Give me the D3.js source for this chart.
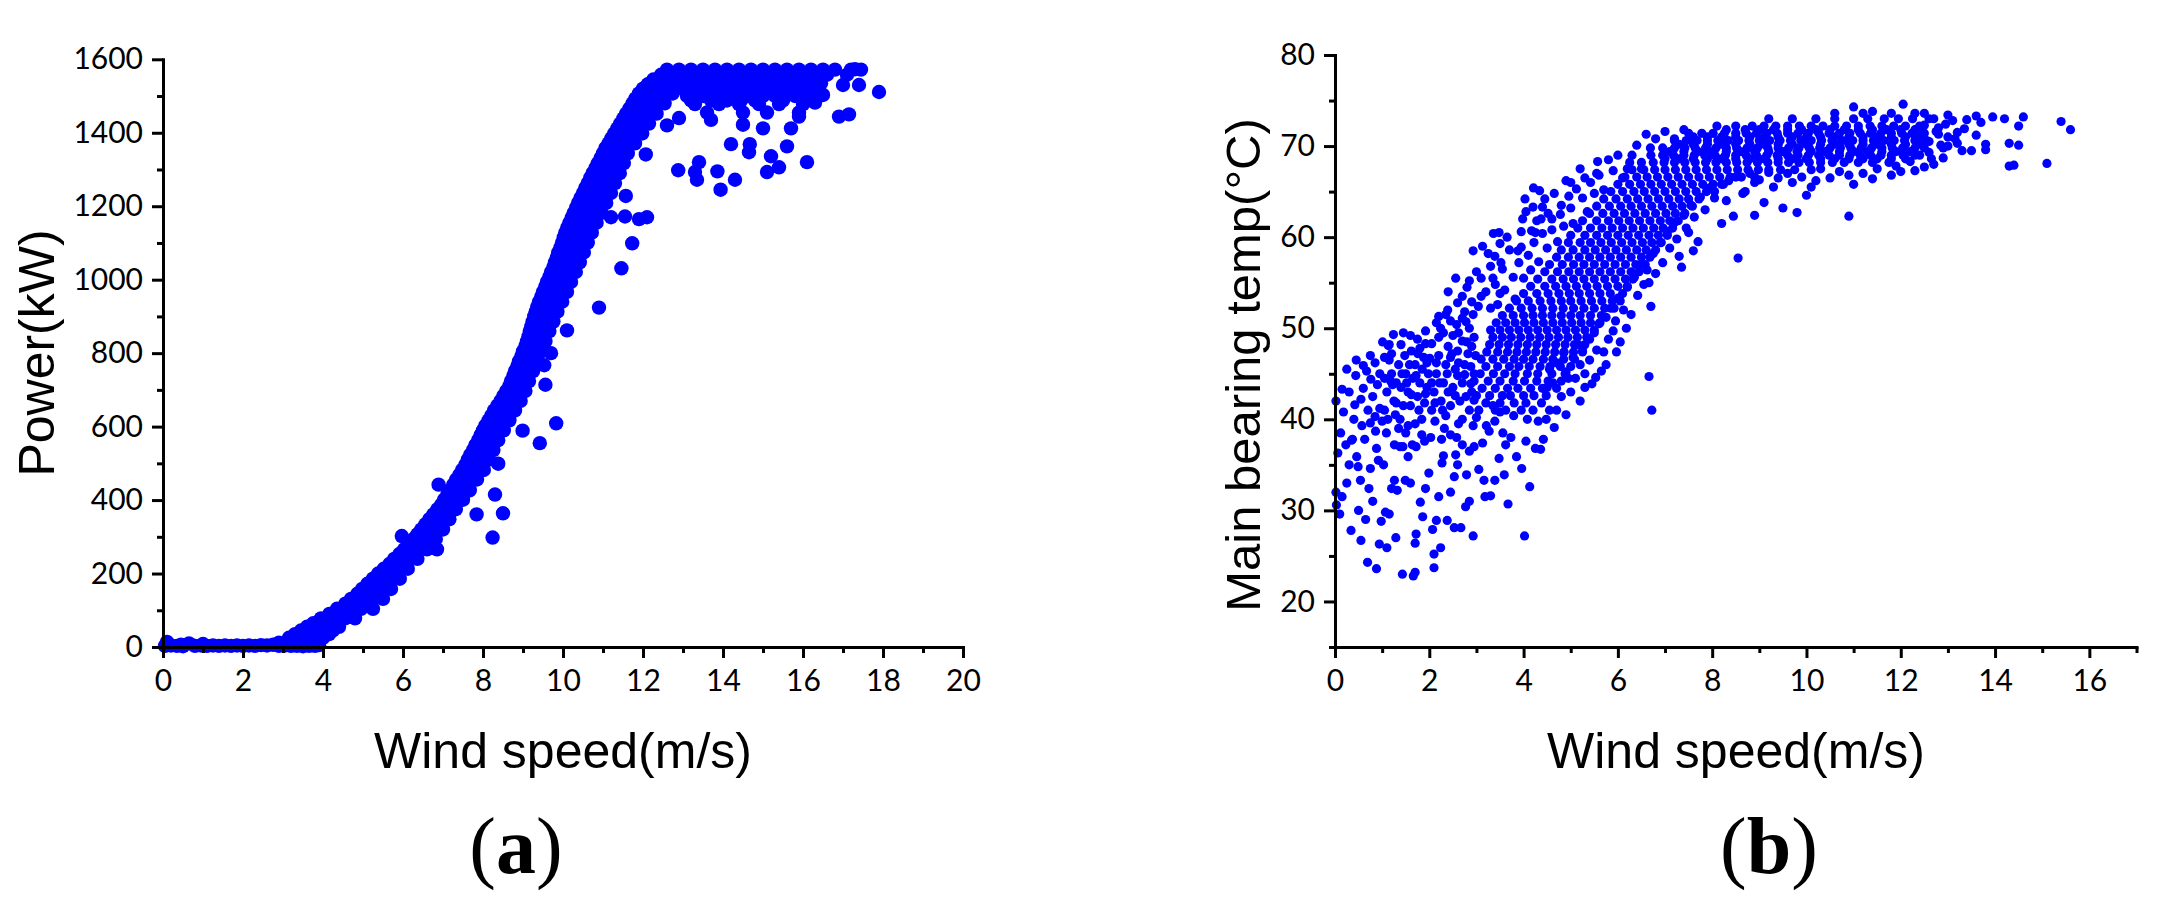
<!DOCTYPE html>
<html><head><meta charset="utf-8">
<script src="https://cdn.jsdelivr.net/npm/d3@7"></script>
<style>html,body{margin:0;padding:0;background:#fff;} svg{display:block}</style>
</head><body>
<svg id="chart" width="2167" height="897"></svg>
<script>
// ---------- Panel (a): Wind speed vs Power ----------
const xTicksA = [0,2,4,6,8,10,12,14,16,18,20];
const xMinorA = [1,3,5,7,9,11,13,15,17,19];
const yTicksA = [0,200,400,600,800,1000,1200,1400,1600];
const yMinorA = [100,300,500,700,900,1100,1300,1500];

// near-zero strip (wind, power)
const stripA = [[0.05,3],[0.1,14],[0.2,4],[0.35,3],[0.45,6],[0.5,2],[0.65,10],[0.8,3],[0.95,4],[1.0,8],[1.1,3],[1.25,4],[1.4,3],[1.55,4],[1.7,3],[1.85,4],[2.0,3],[2.15,4],[2.3,3],[2.45,5],[2.6,4],[2.75,6],[2.9,3],[3.05,4],[3.2,3],[3.35,3],[3.5,2],[3.65,3],[3.8,3],[3.9,5]];

// main power-curve band: power levels and the wind speeds observed at each
const bandPowerA = [25,45,65,90,118,145,172,200,226,253,280,307,334,361,388,415,442,469,496,523,550,577,603,630,657,684,711,738,765,792,819,846,873,900,927,954,981,1008,1034,1061,1088,1115,1142,1169,1196,1223,1250,1277,1304,1331,1358,1385,1412,1439,1466,1493,1520,1545];
const bandWindA = [
[3.15,3.45,3.75,4.0],[3.45,3.75,4.05,4.25],[3.76,4.05,4.34],[4.16,4.45,4.74],[4.56,4.87,5.19],
[4.86,5.13,5.39],[5.11,5.35,5.59],[5.38,5.62,5.82],[5.66,5.85,6.04],[5.91,6.1,6.29],
[6.16,6.35,6.54],[6.36,6.55,6.74],[6.56,6.75,6.94],[6.76,6.95,7.09],[6.96,7.1,7.24],
[7.11,7.26,7.42],[7.26,7.42,7.59],[7.41,7.58,7.76],[7.56,7.75,7.94],[7.68,7.87,8.06],
[7.81,8.0,8.19],[7.94,8.13,8.32],[8.06,8.25,8.44],[8.21,8.4,8.59],[8.36,8.55,8.72],
[8.51,8.7,8.86],[8.66,8.83,8.99],[8.76,8.93,9.09],[8.86,9.03,9.19],[8.96,9.13,9.29],
[9.06,9.23,9.39],[9.14,9.32,9.49],[9.21,9.4,9.59],[9.28,9.48,9.69],[9.36,9.57,9.79],
[9.46,9.67,9.9],[9.56,9.78,10.01],[9.66,9.88,10.12],[9.76,9.98,10.24],[9.85,10.08,10.34],
[9.94,10.17,10.44],[10.02,10.26,10.54],[10.11,10.35,10.64],[10.22,10.47,10.76],[10.33,10.6,10.89],
[10.44,10.72,11.01],[10.56,10.84,11.14],[10.68,10.96,11.24],[10.81,11.08,11.34],[10.94,11.2,11.44],
[11.06,11.32,11.54],[11.21,11.47,11.72],[11.36,11.62,11.89],[11.51,11.78,12.06],[11.66,11.95,12.24],
[11.81,12.1,12.44],[12.0,12.3,12.64],[12.26,12.55,12.84]
];
// intermediate power levels in the same band
const bandPowerA2 = [12,35,55,78,104,131,158,186,213,240,266,294,320,348,375,401,428,456,482,510,536,563,590,617,644,670,697,724,751,778,805,832,860,886,913,940,967,994,1021,1047,1074,1101,1128,1155,1182,1209,1236,1263,1290,1317,1344,1371,1398,1425,1452,1480,1507,1532];
const bandWindA2 = [
[2.9,3.2,3.5,3.8],[3.3,3.6,3.9,4.15],[3.6,3.9,4.2,4.4],[3.95,4.25,4.55,4.8],[4.35,4.65,4.95,5.25],
[4.7,4.98,5.25,5.5],[4.98,5.22,5.47,5.7],[5.25,5.5,5.72,5.92],[5.52,5.74,5.94,6.12],[5.78,5.98,6.18,6.36],
[6.03,6.22,6.42,6.6],[6.26,6.45,6.64,6.82],[6.46,6.65,6.84,7.0],[6.66,6.85,7.02,7.16],[6.86,7.02,7.17,7.32],
[7.03,7.18,7.33,7.5],[7.18,7.34,7.5,7.67],[7.33,7.5,7.67,7.85],[7.48,7.66,7.84,8.02],[7.62,7.81,7.97,8.14],
[7.75,7.94,8.1,8.26],[7.88,8.06,8.22,8.38],[8.0,8.18,8.34,8.52],[8.14,8.32,8.5,8.66],[8.28,8.46,8.64,8.8],
[8.44,8.62,8.78,8.94],[8.58,8.76,8.92,9.06],[8.7,8.88,9.02,9.15],[8.8,8.98,9.12,9.25],[8.9,9.08,9.22,9.35],
[9.0,9.17,9.32,9.46],[9.1,9.27,9.42,9.56],[9.17,9.36,9.52,9.66],[9.24,9.44,9.6,9.76],[9.32,9.52,9.7,9.86],
[9.4,9.62,9.82,9.98],[9.5,9.72,9.92,10.1],[9.6,9.82,10.02,10.2],[9.7,9.93,10.14,10.32],[9.8,10.03,10.24,10.42],
[9.88,10.12,10.34,10.52],[9.98,10.22,10.44,10.62],[10.06,10.3,10.54,10.72],[10.16,10.41,10.66,10.84],[10.27,10.53,10.78,10.96],
[10.38,10.66,10.9,11.08],[10.5,10.78,11.02,11.2],[10.62,10.9,11.14,11.3],[10.74,11.02,11.24,11.42],[10.87,11.14,11.36,11.52],
[11.0,11.26,11.48,11.62],[11.14,11.4,11.62,11.8],[11.28,11.55,11.78,11.98],[11.43,11.7,11.95,12.15],[11.58,11.86,12.12,12.34],
[11.74,12.02,12.3,12.54],[11.9,12.2,12.48,12.74],[12.12,12.42,12.7,12.95]
];

// rated-power plateau
const plateauPowerA = [1572,1558,1542,1535,1522,1512,1500,1488,1478,1455];
const plateauWindA = [
[12.6,12.9,13.2,13.5,13.8,14.1,14.4,14.7,15.0,15.3,15.6,15.9,16.2,16.5,16.8,17.2,17.45],
[12.45,12.75,13.05,13.35,13.65,13.95,14.25,14.55,14.85,15.15,15.45,15.75,16.05,16.35,16.6,17.1],
[12.8,13.1,13.4,13.7,14.0,14.3,14.6,14.9,15.2,15.5,15.8,16.1,16.4],
[12.6,12.95,13.3,13.65,14.0,14.35,14.7,15.05,15.4,15.75,16.1,16.45],
[12.9,13.25,13.6,13.9,14.2,14.5,14.8,15.1,15.4,15.7,16.0,16.4],
[12.75,13.4,13.7,14.05,14.4,14.75,15.2,15.55,15.9,16.3],
[13.1,13.5,13.8,14.3,14.6,15.0,15.3,15.8,16.2],
[13.2,13.7,14.1,14.45,14.8,15.5,16.1],
[13.3,13.9,14.4,14.9,15.4,16.0],
[13.6,14.5,15.1,15.9]
];

// scattered low points (wind, power)
const outliersA = [[5.97,302],[6.89,442],[6.85,266],[7.66,426],[7.84,361],[8.3,415],[8.24,298],[8.38,499],[8.5,364],
[8.99,589],[9.42,555],[9.83,609],[9.56,714],[9.53,767],[9.7,800],[10.1,862],[10.9,924],[11.46,1031],[11.73,1099],
[11.2,1170],[11.55,1172],[11.9,1165],[12.1,1170],[11.57,1228],[11.1,1235],[12.07,1341],[12.88,1298],[13.3,1293],[13.35,1272],
[13.4,1320],[13.86,1295],[13.94,1245],[14.3,1272],[14.2,1369],[14.67,1369],[14.65,1347],[15.1,1293],[15.2,1336],
[15.4,1306],[15.6,1363],[16.1,1320],[15.7,1412],[15.9,1444],[13.7,1435],[15.0,1412],[14.5,1422],[16.9,1444],
[17.15,1450],[17.9,1511],[17.4,1530],[17.3,1573],[16.5,1503],[16.3,1482],[17.0,1530],[12.6,1420],[12.9,1440]];

// ---------- Panel (b): Wind speed vs Main bearing temperature ----------
const xTicksB = [0,2,4,6,8,10,12,14,16];
const xMinorB = [1,3,5,7,9,11,13,15,17];
const yTicksB = [20,30,40,50,60,70,80];
const yMinorB = [15,25,35,45,55,65,75];

// scattered points (wind, temp)
const sparseB = [
[0.02,42],[0.18,40.8],[0.06,36.3],[0.02,32],[0.15,31.5],[0.1,29.6],[0.03,30.6],[0.34,27.8],[0.55,26.7],[0.69,24.3],
[0.88,23.6],[0.94,26.3],[0.37,37.8],[0.4,40],[0.46,35.9],[0.49,34.8],[0.54,33.3],[0.63,37.8],[0.57,39.3],[0.75,39.6],
[0.72,32.4],[0.75,34.6],[0.86,38.7],[0.23,37.2],[0.35,37.7],[0.6,45.9],[0.67,45.3],[0.76,44.4],[0.6,43.4],[0.42,41.6],
[0.44,44.8],[0.8,42.5],[0.9,43.8],[0.95,41.2],[0.3,43],[0.85,46.2],[0.7,41],[0.5,30],[0.65,29],[0.8,31],[0.25,33],
[0.92,35.5],[0.98,28.8],[0.88,36.8],[0.3,35],[0.12,38.5],
[1.01,48.5],[1.13,48.1],[1.24,49.3],[1.6,49.2],[1.92,49.7],[1.15,48.2],[1.76,47.2],[1.92,48.3],[1.1,25.9],[1.29,27],
[1.43,23],[1.66,22.8],[1.7,23.2],[1.7,26.4],[1.72,27.4],[1.03,35],[1.07,29.8],[1.15,29.6],[1.26,33.3],[1.2,32.4],
[1.32,32.2],[1.49,33.3],[1.6,33],[1.55,35.9],[1.38,37],[1.72,37],[1.9,37.6],[1.99,34.1],[1.92,32.4],[1.81,30.9],
[1.86,29.3],[1.64,37.2],[1.44,37],[1.26,37.2],[1.09,38.5],[1.38,40],[1.55,39.3],[1.84,40],[1.84,38.3],
[1.05,41],[1.1,43],[1.2,45],[1.25,42],[1.3,44],[1.35,46],[1.4,43.5],[1.45,41.5],[1.5,45],[1.55,43],[1.6,41.5],
[1.65,44.5],[1.7,46],[1.75,42.5],[1.8,44],[1.85,45.5],[1.9,41.8],[1.95,43.5],[1.15,46.5],[1.28,40.5],[1.48,47],
[1.62,47.5],[1.88,46.8],[1.05,44.5],[1.35,39],[1.7,39.5],[1.98,45],[1.42,45],[1.58,46],[1.22,43.8],[1.78,41],
[1.92,42.8],[1.12,40],[1.5,38.5],
[2.1,23.7],[2.1,25.2],[2.24,25.9],[2.07,27.9],[2.15,28.9],[2.38,28.9],[2.53,28.1],[2.67,28.1],[2.77,30.4],[2.93,27.2],
[2.27,35.2],[2.53,33.7],[2.56,36.1],[2.79,33.9],[2.7,37.2],[2.58,38],[2.45,38.3],[2.26,37.8],[2.03,38],[2.95,37],
[2.35,40.4],[2.7,40],[2.93,39.3],[2.12,39.8],[2.2,31.5],[2.45,32],[2.85,31],
[2.05,41],[2.1,43],[2.15,45],[2.2,47],[2.25,42],[2.3,44],[2.35,46],[2.4,48],[2.45,41.5],[2.5,43.5],[2.55,45.5],
[2.6,47.5],[2.65,42],[2.7,44],[2.75,46],[2.8,48.5],[2.85,41],[2.9,43],[2.95,45],[2.98,47],[2.24,50],[2.35,51.5],
[2.39,52],[2.58,50.4],[2.7,51.1],[2.93,51.5],[2.01,46.7],[2.2,49],[2.5,49.2],[2.85,50],[2.12,41.8],[2.32,39],
[2.62,39.5],[2.88,45.8],[2.4,43],[2.6,44.8],[2.78,42.5],[2.05,44],[2.45,46.8],[2.95,49],
[2.56,55.5],[2.93,58.5],[2.4,54],[2.7,53.5],[2.2,51.3],[2.85,55.2],
[3.18,31.5],[3.3,31.6],[3.67,30.7],[4.02,27.2],[3.16,33.3],[3.39,33.3],[3.48,35.7],[3.59,33.9],[3.62,37.2],[3.85,35.9],
[3.96,34.6],[4.13,32.6],[4.05,37.6],[3.73,38],[3.56,38.5],[3.27,38.7],[3.13,37.4],[4.36,36.7],[4.42,37.8],[4.25,36.8],
[4.31,39.8],[4.48,40],[4.08,40],[3.79,40.4],[3.39,39.8],[3.21,39.3],[4.65,39.1],
[3.04,52.4],[3.13,59],[3.39,57.9],[3.5,59.3],[3.52,57.2],[3.48,60.5],[3.36,60.4],[3.88,58.5],[3.95,58.9],[4.21,65.4],
[4.34,65.1],[4.2,63.3],[4.4,63.3],[4.37,62],[4.03,64.2],[3.98,62],[4.17,60.7],[4.25,60.5],[3.2,54],[3.35,55.5],
[3.1,55.5],[3.3,56.8],[4.96,64.5],[5.57,68.3],[4.6,62],[4.8,63.5],[5.0,66],[5.3,66.5],[5.55,67],
[4.7,41],[4.8,42.5],[4.9,40.5],[5.0,43],[5.1,44.5],[5.2,42],[5.3,45],[5.45,43.9],[5.53,44.6],[5.7,47.4],[5.97,47.4],
[5.9,49.7],[5.75,46],[5.4,46.5],[5.2,46],[4.62,44],[4.9,45.2],
[6.66,44.7],[6.72,41],[6.18,50],[6.7,52.4],[6.66,55],[7.35,56.7],[7.3,57.9],[7.6,58.5],[7.7,59.5],[7.5,60.5],
[6.6,71.3],[6.69,69.8],[6.3,69],[6.2,67.5],[8.45,62.3],[8.2,61.5],[8.55,57.7],[8.9,62.4],[9.1,63.8],[9.5,63.2],
[9.8,62.7],[10,64.6],[10.9,62.3],[8.3,64],[8.7,65],[9.3,65.5],[9.7,66],[10.5,66.5],[10.3,67.5],[10.9,66.8],
[11.5,67.5],[12.5,67.7],[9.4,66.5],[11.2,67],[8.9,66],[10.1,65.5],
[11.0,74.3],[12.05,74.6],[11.4,73.8],[12.5,73.6],[13.0,73.4],
[12.4,69],[12.6,70.5],[12.8,72],[13.0,70],[13.2,71.5],[12.5,72.3],[12.9,68.7],[13.3,69.5],[12.7,73],[13.1,72.8],
[13.6,73.3],[13.6,71.2],[13.8,70.2],[13.8,69.6],[13.5,69.5],[13.95,73.2],[14.2,73],[14.6,73.2],[15.4,72.7],[15.6,71.8],
[14.3,70.3],[14.5,70.1],[14.3,67.8],[14.4,67.9],[15.1,68.1],[14.5,72.2],[13.4,72.9],[12.2,68.3],[11.9,67.8],[12.0,67.2]
];

// diffuse points around the edges of the main cloud (wind, temp)
const edgeB = [
[2.6,52.8],[2.8,54.5],[3.0,56.2],[3.1,53.5],[3.25,58.2],[3.4,54.8],[3.45,52.6],[3.55,56.5],[3.6,54.2],[3.65,60],
[3.7,58.6],[3.78,55.6],[3.82,53.2],[3.9,57.2],[3.95,60.6],[4.0,55.5],[4.05,62.8],[4.1,58],[4.15,56.4],[4.22,59.4],
[4.28,61.8],[4.32,57.3],[4.4,60.4],[4.45,64.2],[4.5,58.8],[4.52,62.6],[4.6,60.8],[4.65,64.8],[4.72,59.5],[4.78,62.5],
[4.85,61.2],[4.9,66.2],[5.0,63.2],[5.05,61.5],[5.12,65.3],[5.2,67.5],[5.25,64.3],[5.35,62.8],[5.42,66],[5.5,64.8],
[5.6,66.8],[5.7,65.2],[5.8,68.5],[5.9,67.3],[6.0,69],[6.1,66.5],[6.25,68.2],[6.4,70.1],[6.5,67.5],[6.8,70.8],
[7.0,71.6],[7.2,70.8],[7.4,71.8],[3.5,53.8],[3.3,52.2],[2.75,51.8],[2.9,52.9],
[4.5,43.5],[4.55,45.5],[4.7,46.2],[4.85,47.3],[4.95,44.5],[5.05,46.8],[5.15,48.2],[5.25,47.5],[5.3,43.5],[5.4,48.8],
[5.5,49.5],[5.55,47.6],[5.6,50.5],[5.65,45.3],[5.75,51.2],[5.8,48.8],[5.85,52.2],[5.95,50.8],[6.0,53.3],[6.05,48.5],
[6.12,52],[6.2,54.5],[6.28,51.5],[6.35,55.6],[6.42,53.6],[6.5,57],[6.55,54.8],[6.62,56.4],[6.75,58.2],[6.8,56],
[6.9,59.4],[6.95,57.2],[7.05,60.6],[7.1,58.8],[7.2,61.6],[7.25,59.8],[7.4,62.4],[7.45,61],[7.55,63.5],[7.62,62.2],
[7.75,64.4],[7.85,63],[7.95,65.4],[8.05,64.3],[8.2,65.8],[8.35,66.2],[8.5,66.6],[8.65,64.8],[8.8,67],[9.0,66.3],
[9.2,67.1],[9.6,67],[9.9,66.6],[10.2,66.2],[10.7,67.2],[11.0,65.8],[11.4,66.4],[11.8,66.8],[12.3,67.3],[12.7,68],
[12.9,69.8],[13.2,70.3],[12.8,71.3],[13.0,71],
[1.05,46.8],[1.18,44.2],[1.3,41.8],[1.4,48.2],[1.52,44],[1.62,42.7],[1.72,44.8],[1.8,47.8],[1.95,46.2],[2.05,48.3],
[2.15,46.2],[2.22,44],[2.28,41],[2.38,45],[2.48,47.2],[2.55,42.6],[2.62,46.2],[2.7,48.6],[2.75,44.9],[2.82,47.2],
[2.88,43.9],[2.95,42.1],[2.15,50.6],[2.3,49.5],[2.45,50.8],[2.62,49.5],[2.78,50.7],[2.9,48],[1.45,49.5],[1.75,48.8],
[1.2,47.2],[0.95,45],[0.75,47],[0.45,46.5],[0.25,45.5],[0.55,42.2],[0.15,43.3],[0.85,40.3],[1.0,39.8],[2.3,36],
[2.6,35],[2.85,36.5],[3.05,34.5],[3.0,40.2],[3.35,41.5],[3.5,40.8],
[12.6,69.3],[12.75,71.6],[12.95,72.4],[13.15,70.8],[12.45,71.8],[12.65,68.6],[13.35,71.9],[13.7,72.6],[12.85,70.1]
];

// dense core: temperature rows and the wind speeds observed along each
const denseTempB = [41.0,41.8,42.6,43.4,44.2,45.0,45.8,46.6,47.4,48.2,49.0,49.8,50.6,51.4,52.2,53.0,53.8,54.6,55.4,56.2,57.0,57.8,58.6,59.4,60.2,61.0,61.8,62.6,63.4,64.2,65.0,65.8,66.6,67.4,68.2,69.0,69.8,70.6,71.4,72.2,73.0,73.6];
const denseWindB = [
[3.05,3.4,3.62,3.95,4.2,4.55],
[3.2,3.5,3.8,4.05,4.38],
[3.0,3.28,3.55,3.72,4.0,4.22,4.48],
[3.12,3.4,3.66,3.88,4.15,4.4,4.7],
[2.95,3.25,3.5,3.78,4.02,4.28,4.52,4.8],
[3.08,3.36,3.6,3.82,4.08,4.3,4.6,4.88],
[3.2,3.45,3.7,3.9,4.12,4.35,4.56,4.78,5.0],
[3.1,3.35,3.58,3.8,4.0,4.2,4.42,4.62,4.85,5.08],
[3.22,3.45,3.66,3.86,4.06,4.26,4.46,4.66,4.86,5.06,5.25],
[3.28,3.48,3.68,3.88,4.08,4.28,4.48,4.68,4.88,5.08,5.3],
[3.35,3.55,3.74,3.94,4.14,4.34,4.54,4.74,4.94,5.14,5.34],
[3.3,3.5,3.7,3.9,4.1,4.3,4.5,4.7,4.9,5.1,5.3,5.5],
[3.42,3.62,3.82,4.02,4.22,4.42,4.62,4.82,5.02,5.22,5.42,5.62],
[3.55,3.78,4.0,4.2,4.4,4.6,4.8,5.0,5.2,5.42,5.65],
[3.7,3.95,4.18,4.4,4.62,4.84,5.06,5.28,5.5,5.72,5.92],
[3.85,4.1,4.35,4.58,4.8,5.0,5.22,5.44,5.66,5.88,6.05],
[4.0,4.28,4.52,4.75,4.97,5.18,5.4,5.62,5.84,6.1],
[4.15,4.45,4.68,4.9,5.12,5.34,5.56,5.78,6.0,6.2],
[4.3,4.6,4.84,5.06,5.28,5.5,5.72,5.94,6.16,6.32],
[4.45,4.72,4.96,5.18,5.4,5.62,5.84,6.06,6.28,6.45],
[4.55,4.82,5.06,5.28,5.5,5.72,5.94,6.16,6.38,6.58],
[4.7,4.95,5.18,5.4,5.62,5.84,6.06,6.28,6.5,6.68],
[4.8,5.05,5.3,5.52,5.74,5.96,6.18,6.4,6.6,6.8],
[4.95,5.2,5.42,5.64,5.86,6.08,6.3,6.52,6.72,6.92],
[5.0,5.3,5.55,5.78,6.0,6.22,6.44,6.66,6.86,7.05],
[5.15,5.42,5.66,5.88,6.1,6.32,6.54,6.76,6.96,7.16],
[5.25,5.55,5.8,6.02,6.24,6.46,6.68,6.9,7.1,7.28],
[5.4,5.68,5.92,6.14,6.36,6.58,6.8,7.02,7.22,7.42],
[5.55,5.82,6.06,6.28,6.5,6.72,6.94,7.16,7.36,7.58],
[5.7,5.96,6.2,6.42,6.64,6.86,7.08,7.3,7.5,7.72],
[5.85,6.1,6.34,6.56,6.78,7.0,7.22,7.44,7.66,7.88,8.05],
[6.0,6.25,6.48,6.7,6.92,7.14,7.36,7.58,7.8,8.02,8.24],
[6.15,6.4,6.62,6.84,7.06,7.28,7.5,7.72,7.94,8.16,8.38,8.62,8.9],
[6.3,6.55,6.78,7.0,7.22,7.44,7.66,7.88,8.1,8.32,8.54,8.76,8.98,9.2,9.45,9.75,10.1],
[6.5,6.75,6.98,7.2,7.42,7.64,7.86,8.08,8.3,8.52,8.74,8.96,9.18,9.4,9.62,9.84,10.06,10.3,10.55,10.8,11.1,11.4,11.75],
[6.7,6.95,7.18,7.4,7.62,7.84,8.06,8.28,8.5,8.72,8.94,9.16,9.38,9.6,9.82,10.04,10.26,10.48,10.7,10.92,11.14,11.36,11.58,11.8,12.05,12.3],
[6.95,7.2,7.42,7.64,7.86,8.08,8.3,8.52,8.74,8.96,9.18,9.4,9.62,9.84,10.06,10.28,10.5,10.72,10.94,11.16,11.38,11.6,11.82,12.04,12.3,12.5],
[7.2,7.45,7.68,7.9,8.12,8.34,8.56,8.78,9.0,9.22,9.44,9.66,9.88,10.1,10.32,10.54,10.76,10.98,11.2,11.42,11.64,11.86,12.08,12.3,12.55],
[7.5,7.78,8.02,8.26,8.5,8.72,8.94,9.16,9.38,9.6,9.82,10.04,10.26,10.48,10.7,10.92,11.14,11.36,11.58,11.8,12.02,12.24,12.5],
[8.1,8.5,8.85,9.1,9.35,9.6,9.85,10.1,10.35,10.6,10.85,11.1,11.35,11.6,11.85,12.1,12.4],
[9.2,9.7,10.2,10.6,11.0,11.3,11.65,11.95,12.25,12.6],
[10.6,11.2,11.8,12.3]
];
// extra rows inside the high-wind plateau of panel (b)
const plateauTempB = [68.6,69.4,70.2,71.0,71.8];
const plateauWindB = [
[7.0,7.3,7.6,7.9,8.2,8.5,8.8,9.1,9.4,9.7,10.0,10.3,10.6,10.9,11.2,11.5,11.8,12.1],
[7.1,7.4,7.7,8.0,8.3,8.6,8.9,9.2,9.5,9.8,10.1,10.4,10.7,11.0,11.3,11.6,11.9,12.2],
[7.3,7.6,7.9,8.2,8.5,8.8,9.1,9.4,9.7,10.0,10.3,10.6,10.9,11.2,11.5,11.8,12.1,12.4],
[7.6,7.9,8.2,8.5,8.8,9.1,9.4,9.7,10.0,10.3,10.6,10.9,11.2,11.5,11.8,12.1,12.4],
[8.3,8.7,9.0,9.3,9.6,9.9,10.2,10.5,10.8,11.1,11.4,11.7,12.0,12.3]
];

// ---------- drawing ----------
const svg = d3.select('#chart');
svg.append('rect').attr('width',2167).attr('height',897).attr('fill','#fff');
const BLUE = '#0000FF';
const TICKFONT = 'Lato, "Open Sans", sans-serif';
const TITLEFONT = '"Liberation Sans", Arial, sans-serif';

function rowsToPairs(levels, lists){
  const out = [];
  levels.forEach((lv,i)=> lists[i].forEach(w => out.push([w, lv])));
  return out;
}

function drawAxes(xs, ys, xMaj, xMin, yMaj, yMin){
  const y0 = ys.range()[0], x0 = xs.range()[0];
  const fmt = d3.format('d');
  const gxm = svg.append('g').attr('transform',`translate(0,${y0})`)
    .call(d3.axisBottom(xs).tickValues(xMin).tickSize(6).tickFormat('').tickSizeOuter(0));
  gxm.select('.domain').remove();
  const gx = svg.append('g').attr('transform',`translate(0,${y0})`)
    .call(d3.axisBottom(xs).tickValues(xMaj).tickFormat(fmt).tickSize(11).tickPadding(12).tickSizeOuter(0));
  const gym = svg.append('g').attr('transform',`translate(${x0},0)`)
    .call(d3.axisLeft(ys).tickValues(yMin).tickSize(6).tickFormat('').tickSizeOuter(0));
  gym.select('.domain').remove();
  const gy = svg.append('g').attr('transform',`translate(${x0},0)`)
    .call(d3.axisLeft(ys).tickValues(yMaj).tickFormat(fmt).tickSize(11).tickPadding(9).tickSizeOuter(0));
  [gxm,gx,gym,gy].forEach(g=>{
    g.selectAll('line').attr('stroke','#000').attr('stroke-width',3);
    g.selectAll('.domain').attr('stroke','#000').attr('stroke-width',3).attr('stroke-linecap','square');
    g.selectAll('text').attr('fill','#000').style('font-family',TICKFONT).style('font-size','30px');
  });
}

function drawDots(xs, ys, pts, r){
  svg.append('g').selectAll('circle').data(pts).join('circle')
    .attr('cx', d=>xs(d[0])).attr('cy', d=>ys(d[1])).attr('r', r).attr('fill', BLUE);
}

// Panel (a)
const xA = d3.scaleLinear().domain([0,20]).range([163,963]);
const yA = d3.scaleLinear().domain([0,1600]).range([647,59.3]);
const ptsA = [].concat(stripA, rowsToPairs(bandPowerA, bandWindA), rowsToPairs(bandPowerA2, bandWindA2),
  rowsToPairs(plateauPowerA, plateauWindA), outliersA);
drawDots(xA, yA, ptsA, 7.2);
drawAxes(xA, yA, xTicksA, xMinorA, yTicksA, yMinorA);

// Panel (b)
const xB = d3.scaleLinear().domain([0,17]).range([1335,2136.5]);
const yB = d3.scaleLinear().domain([15,80]).range([647,55]);
const ptsB = [].concat(sparseB, edgeB, rowsToPairs(denseTempB, denseWindB), rowsToPairs(plateauTempB, plateauWindB));
drawDots(xB, yB, ptsB, 4.6);
drawAxes(xB, yB, xTicksB, xMinorB, yTicksB, yMinorB);

// Titles
function title(x, y, txt, rot, size){
  const t = svg.append('text').attr('text-anchor','middle')
    .style('font-family',TITLEFONT).style('font-size',size+'px').attr('fill','#000').text(txt);
  if (rot) t.attr('transform',`translate(${x},${y}) rotate(-90)`); else t.attr('x',x).attr('y',y);
}
title(563, 768, 'Wind speed(m/s)', false, 50);
title(1736, 768, 'Wind speed(m/s)', false, 50);
title(54, 353, 'Power(kW)', true, 50);
title(1260, 365, 'Main bearing temp(°C)', true, 49);

function panelLabel(x, letter){
  const t = svg.append('text').attr('x',x).attr('y',873).attr('text-anchor','middle')
    .style('font-family','"Liberation Serif","Times New Roman",serif').style('font-size','80px').attr('fill','#000');
  t.append('tspan').text('(');
  t.append('tspan').style('font-weight','bold').text(letter);
  t.append('tspan').text(')');
}
panelLabel(516, 'a');
panelLabel(1769, 'b');
</script>
</body></html>
